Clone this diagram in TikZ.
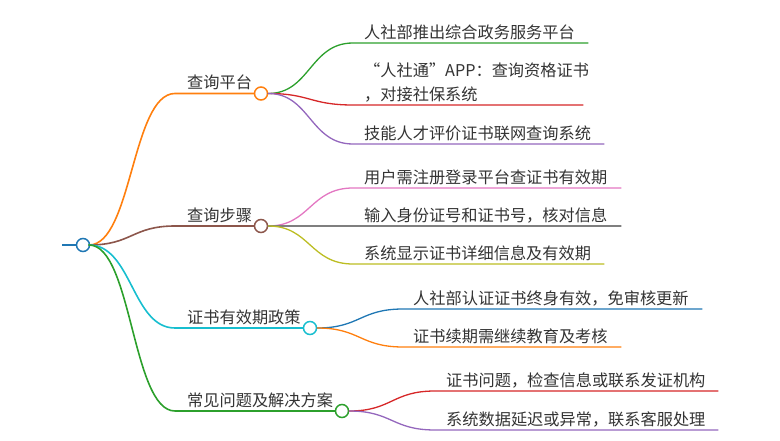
\documentclass[tikz,border=0pt]{standalone}
\usepackage{fontspec}
\setmainfont{Noto Sans CJK SC}
\usetikzlibrary{calc}
\definecolor{cblue}{HTML}{1F77B4}
\definecolor{corange}{HTML}{FF7F0E}
\definecolor{cgreen}{HTML}{2CA02C}
\definecolor{cred}{HTML}{D62728}
\definecolor{cpurple}{HTML}{9467BD}
\definecolor{cbrown}{HTML}{8C564B}
\definecolor{cpink}{HTML}{E377C2}
\definecolor{cgray}{HTML}{7F7F7F}
\definecolor{colive}{HTML}{BCBD22}
\definecolor{ccyan}{HTML}{17BECF}
\definecolor{ctext}{HTML}{333333}
\tikzset{
  dot/.style={circle,fill=white,line width=1.5pt,minimum size=13pt,inner sep=0pt},
  lone/.style={line width=1.6pt,line cap=round},
  ltwo/.style={line width=1.3pt,line cap=round},
  lbl/.style={anchor=base west,inner sep=0pt,text=ctext,font=\fontsize{16.2pt}{24pt}\selectfont},
}
\begin{document}
\begin{tikzpicture}[x=1pt,y=-1pt]
\useasboundingbox (0,0) rectangle (780,441);
% root
\coordinate (rs) at (62,245);
\node[dot,draw=cblue] (root) at (83,245) {};
\draw[line width=2.6pt,cblue] (rs) -- (root.west);
\coordinate (ro) at (89,245);

% level 1 starts
\coordinate (a0) at (175,93.5);
\coordinate (b0) at (175,226);
\coordinate (c0) at (175,328);
\coordinate (d0) at (175,411);
\node[dot,draw=corange] (a) at (261,93.5) {};
\node[dot,draw=cbrown] (b) at (261,226) {};
\node[dot,draw=ccyan] (c) at (310,328) {};
\node[dot,draw=cgreen] (d) at (342,411) {};

\draw[lone,corange] (ro) .. controls (132,245) and (132,93.5) .. (a0) -- (a.west);
\draw[lone,cbrown] (ro) .. controls (132,245) and (132,226) .. (b0) -- (b.west);
\draw[lone,ccyan] (ro) .. controls (132,245) and (132,328) .. (c0) -- (c.west);
\draw[lone,cgreen] (ro) .. controls (132,245) and (132,411) .. (d0) -- (d.west);

\node[lbl] (at) at (187,89) {查询平台};
\node[lbl] (bt) at (187,221.5) {查询步骤};
\node[lbl] (ct) at (187,323.5) {证书有效期政策};
\node[lbl] (dt) at (187,406.5) {常见问题及解决方案};

% level 2 of a
\coordinate (a1s) at (353,43);  \coordinate (a1e) at (588,43);
\coordinate (a2s) at (353,105); \coordinate (a2e) at (583,105);
\coordinate (a3s) at (353,144); \coordinate (a3e) at (604,144);
\draw[ltwo,cgreen] (a.east) .. controls (310,93.5) and (310,43) .. (a1s) -- (a1e);
\draw[ltwo,cred] (a.east) .. controls (310,93.5) and (310,105) .. (a2s) -- (a2e);
\draw[ltwo,cpurple] (a.east) .. controls (310,93.5) and (310,144) .. (a3s) -- (a3e);
\node[lbl] (a1t) at (364,38.5) {人社部推出综合政务服务平台};
\node[lbl] (a2t) at (364,76.5) {“人社通”APP：查询资格证书};
\node[lbl] (a2u) at (364,100.5) {，对接社保系统};
\node[lbl] (a3t) at (364,139.5) {技能人才评价证书联网查询系统};

% level 2 of b
\coordinate (b1s) at (353,188); \coordinate (b1e) at (621,188);
\coordinate (b2s) at (353,226); \coordinate (b2e) at (621,226);
\coordinate (b3s) at (353,264); \coordinate (b3e) at (604,264);
\draw[ltwo,cpink] (b.east) .. controls (310,226) and (310,188) .. (b1s) -- (b1e);
\draw[ltwo,cgray] (b.east) -- (b2s) -- (b2e);
\draw[ltwo,colive] (b.east) .. controls (310,226) and (310,264) .. (b3s) -- (b3e);
\node[lbl] (b1t) at (364,183.5) {用户需注册登录平台查证书有效期};
\node[lbl] (b2t) at (364,221.5) {输入身份证号和证书号，核对信息};
\node[lbl] (b3t) at (364,259.5) {系统显示证书详细信息及有效期};

% level 2 of c
\coordinate (c1s) at (403,309); \coordinate (c1e) at (702,309);
\coordinate (c2s) at (403,347); \coordinate (c2e) at (621,347);
\draw[ltwo,cblue] (c.east) .. controls (360,328) and (360,309) .. (c1s) -- (c1e);
\draw[ltwo,corange] (c.east) .. controls (360,328) and (360,347) .. (c2s) -- (c2e);
\node[lbl] (c1t) at (413,304.5) {人社部认证证书终身有效，免审核更新};
\node[lbl] (c2t) at (413,342.5) {证书续期需继续教育及考核};

% level 2 of d
\coordinate (d1s) at (435,391); \coordinate (d1e) at (718,391);
\coordinate (d2s) at (435,430); \coordinate (d2e) at (718,430);
\draw[ltwo,cred] (d.east) .. controls (392,411) and (392,391) .. (d1s) -- (d1e);
\draw[ltwo,cpurple] (d.east) .. controls (392,411) and (392,430) .. (d2s) -- (d2e);
\node[lbl] (d1t) at (446,386.5) {证书问题，检查信息或联系发证机构};
\node[lbl] (d2t) at (446,425.5) {系统数据延迟或异常，联系客服处理};
\end{tikzpicture}
\end{document}
